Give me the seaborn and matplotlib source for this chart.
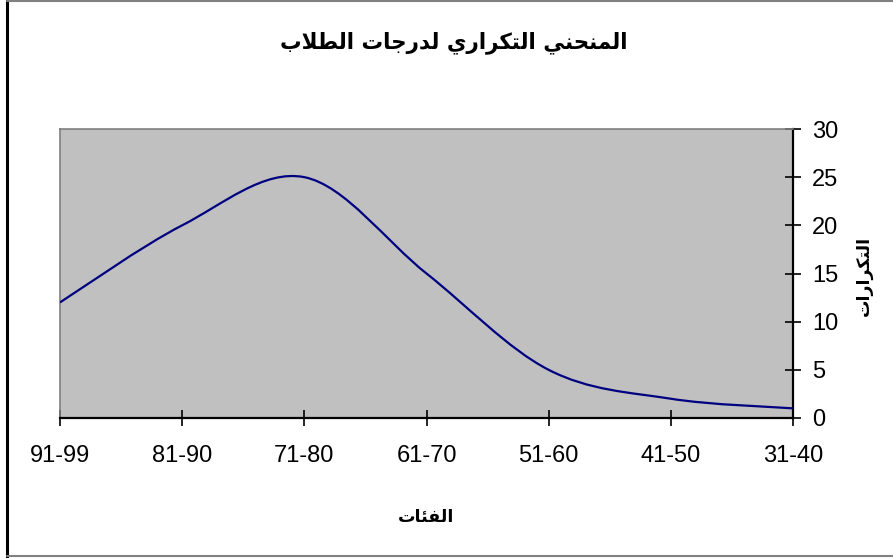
import numpy as np
import seaborn as sns
import matplotlib.pyplot as plt
from matplotlib.path import Path
from matplotlib.patches import PathPatch
from matplotlib.lines import Line2D

# data (natural order, drawn on a reversed axis)
categories = ["31-40", "41-50", "51-60", "61-70", "71-80", "81-90", "91-99"]
frequencies = [1, 2, 5, 15, 25, 20, 12]
y_ticks = [0, 5, 10, 15, 20, 25, 30]

title_text = "المنحني التكراري لدرجات الطلاب"
xlabel_text = "الفئات"
ylabel_text = "التكرارات"

# arabic presentation forms: isolated, final, initial, medial
FORMS = {
    "ا": ("\uFE8D", "\uFE8E", None, None),
    "ب": ("\uFE8F", "\uFE90", "\uFE91", "\uFE92"),
    "ت": ("\uFE95", "\uFE96", "\uFE97", "\uFE98"),
    "ج": ("\uFE9D", "\uFE9E", "\uFE9F", "\uFEA0"),
    "ح": ("\uFEA1", "\uFEA2", "\uFEA3", "\uFEA4"),
    "د": ("\uFEA9", "\uFEAA", None, None),
    "ر": ("\uFEAD", "\uFEAE", None, None),
    "ط": ("\uFEC1", "\uFEC2", "\uFEC3", "\uFEC4"),
    "ف": ("\uFED1", "\uFED2", "\uFED3", "\uFED4"),
    "ك": ("\uFED9", "\uFEDA", "\uFEDB", "\uFEDC"),
    "ل": ("\uFEDD", "\uFEDE", "\uFEDF", "\uFEE0"),
    "م": ("\uFEE1", "\uFEE2", "\uFEE3", "\uFEE4"),
    "ن": ("\uFEE5", "\uFEE6", "\uFEE7", "\uFEE8"),
    "ي": ("\uFEF1", "\uFEF2", "\uFEF3", "\uFEF4"),
    "ئ": ("\uFE89", "\uFE8A", "\uFE8B", "\uFE8C"),
}


def shape_arabic(text):
    """Join arabic letters and return them in visual (left-to-right) order."""
    tokens = []
    i = 0
    while i < len(text):
        if text[i] == "ل" and i + 1 < len(text) and text[i + 1] == "ا":
            tokens.append("LA")
            i += 2
        else:
            tokens.append(text[i])
            i += 1

    def is_letter(t):
        return t in FORMS or t == "LA"

    def dual(t):
        return t in FORMS and FORMS[t][2] is not None

    out = []
    for k, t in enumerate(tokens):
        if not is_letter(t):
            out.append(t)
            continue
        prev = tokens[k - 1] if k > 0 else None
        nxt = tokens[k + 1] if k + 1 < len(tokens) else None
        jp = prev is not None and dual(prev)
        jn = dual(t) and nxt is not None and is_letter(nxt)
        if t == "LA":
            out.append("\uFEFC" if jp else "\uFEFB")
            continue
        iso, fin, ini, med = FORMS[t]
        if jp and jn:
            out.append(med)
        elif jp:
            out.append(fin)
        elif jn:
            out.append(ini)
        else:
            out.append(iso)
    return "".join(reversed(out))


def smooth_path(xs, ys):
    """Excel-like smoothed line as cubic bezier segments through the points."""
    pts = np.column_stack([xs, ys]).astype(float)
    n = len(pts)
    verts = [pts[0]]
    codes = [Path.MOVETO]
    for i in range(n - 1):
        p0 = pts[i - 1] if i > 0 else pts[i]
        p3 = pts[i + 2] if i + 2 < n else pts[i + 1]
        c1 = pts[i] + (pts[i + 1] - p0) / 6
        c2 = pts[i + 1] - (p3 - pts[i]) / 6
        verts += [c1, c2, pts[i + 1]]
        codes += [Path.CURVE4] * 3
    return Path(verts, codes)


sns.set_style("white")
plt.rcParams["font.family"] = ["Liberation Sans", "DejaVu Sans"]

fig = plt.figure(figsize=(8.93, 5.58), dpi=100)
ax = fig.add_axes([60 / 893, 1 - 418 / 558, 733 / 893, 289 / 558])
ax.set_facecolor("#C0C0C0")

positions = np.arange(len(categories))
ax.add_patch(PathPatch(smooth_path(positions, frequencies), facecolor="none",
                       edgecolor="#000080", lw=1.6, zorder=3))

ax.set_xlim(len(categories) - 1, 0)
ax.set_ylim(0, 30)
ax.set_xticks(positions)
ax.set_xticklabels(categories)
ax.set_yticks(y_ticks)
ax.yaxis.tick_right()

for side in ["top", "left"]:
    ax.spines[side].set_color("#808080")
    ax.spines[side].set_linewidth(1.2)
for side in ["right", "bottom"]:
    ax.spines[side].set_color("black")
    ax.spines[side].set_linewidth(1.6)
    ax.spines[side].set_visible(True)

ax.tick_params(axis="x", direction="inout", length=11, width=1.2, pad=14,
               labelsize=17, colors="black", bottom=True)
ax.tick_params(axis="y", direction="inout", length=11, width=1.2, pad=8,
               labelsize=17, colors="black", right=True, left=False)

ax.set_xlabel(shape_arabic(xlabel_text), fontsize=12.5, fontweight="bold",
              family=["DejaVu Sans"], color="black")
ax.xaxis.set_label_coords(0.5, -0.31)
ax.yaxis.set_label_position("right")
ax.set_ylabel(shape_arabic(ylabel_text), fontsize=12.5, fontweight="bold",
              family=["DejaVu Sans"], rotation=90, color="black")
ax.yaxis.set_label_coords(1.085, 0.49)

fig.text(454 / 893, 1 - 43 / 558, shape_arabic(title_text), ha="center", va="center",
         fontsize=15.5, fontweight="bold", family=["DejaVu Sans"], color="black")

# chart-area border
fig.add_artist(Line2D([7 / 893, 7 / 893], [0, 1], transform=fig.transFigure,
                      color="black", lw=2.2))
fig.add_artist(Line2D([7 / 893, 1], [1 - 1 / 558, 1 - 1 / 558], transform=fig.transFigure,
                      color="#808080", lw=1.5))
fig.add_artist(Line2D([7 / 893, 1], [1 - 556 / 558, 1 - 556 / 558], transform=fig.transFigure,
                      color="#808080", lw=1.5))

fig.savefig("out.png", dpi=100)
